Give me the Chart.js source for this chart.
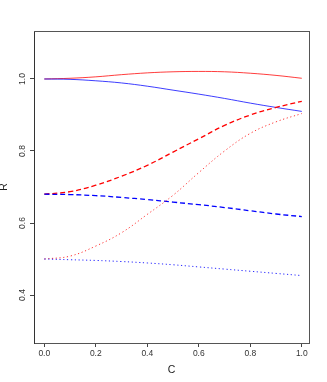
<!DOCTYPE html>
<html>
<head>
<meta charset="utf-8">
<script src="https://cdn.jsdelivr.net/npm/chart.js@4/dist/chart.umd.min.js"></script>
<style>
  html, body { margin: 0; padding: 0; background: #fff; }
  #wrap { width: 327px; height: 382px; }
</style>
</head>
<body>
<div id="wrap"><canvas id="chart" width="327" height="382"></canvas></div>
<script>
// C values along the x axis
const cValues = [0, 0.1, 0.2, 0.3, 0.4, 0.5, 0.6, 0.7, 0.8, 0.9, 1.0];

// R curves
const redSolid   = [1.000, 1.002, 1.006, 1.012, 1.017, 1.020, 1.021, 1.020, 1.016, 1.010, 1.002];
const blueSolid  = [1.000, 0.999, 0.995, 0.989, 0.980, 0.969, 0.958, 0.946, 0.933, 0.921, 0.910];
const redDashed  = [0.680, 0.687, 0.705, 0.730, 0.760, 0.797, 0.834, 0.871, 0.900, 0.921, 0.938];
const blueDashed = [0.680, 0.679, 0.676, 0.671, 0.665, 0.658, 0.651, 0.643, 0.634, 0.625, 0.618];
const redDotted  = [0.500, 0.508, 0.536, 0.573, 0.624, 0.677, 0.740, 0.800, 0.849, 0.881, 0.904];
const blueDotted = [0.500, 0.498, 0.496, 0.493, 0.489, 0.484, 0.478, 0.472, 0.466, 0.460, 0.454];

const xTicks = [0, 0.2, 0.4, 0.6, 0.8, 1.0];
const yTicks = [0.4, 0.6, 0.8, 1.0];

const toPoints = (ys) => ys.map((y, i) => ({ x: cValues[i], y: y }));

const series = (data, color, width, dash, order) => ({
  data: toPoints(data),
  borderColor: color,
  borderWidth: width,
  borderDash: dash,
  pointRadius: 0,
  fill: false,
  tension: 0.4,
  order: order,
});

const tickFont = { family: 'Liberation Sans, Arial, sans-serif', size: 8.5 };
const titleFont = { family: 'Liberation Sans, Arial, sans-serif', size: 10.5 };

new Chart(document.getElementById('chart'), {
  type: 'line',
  data: {
    datasets: [
      series(redSolid, 'rgba(255,0,0,0.85)', 0.9, [], 6),
      series(blueSolid, 'rgba(0,0,255,0.85)', 0.9, [], 5),
      series(redDashed, '#ff0000', 1.3, [5, 3], 4),
      series(blueDashed, '#0000ff', 1.3, [5, 3], 3),
      series(redDotted, 'rgba(255,0,0,0.8)', 1, [1.2, 2.6], 2),
      series(blueDotted, 'rgba(0,0,255,0.85)', 1, [1.2, 2.6], 1),
    ],
  },
  options: {
    responsive: false,
    animation: false,
    layout: { padding: { top: 31, right: 18, left: 0, bottom: 0 } },
    plugins: { legend: { display: false }, tooltip: { enabled: false } },
    scales: {
      x: {
        type: 'linear',
        position: 'bottom',
        min: -0.04,
        max: 1.028,
        afterBuildTicks: (s) => { s.ticks = xTicks.map((v) => ({ value: v })); },
        afterFit: (s) => { s.height = 39; },
        ticks: {
          color: '#333',
          font: tickFont,
          padding: 2,
          maxRotation: 0,
          callback: (v) => v.toFixed(1),
        },
        grid: { drawOnChartArea: false, tickLength: 4, color: '#444' },
        border: { color: '#555', width: 1 },
        title: { display: true, text: 'C', color: '#222', font: titleFont, padding: { top: 0, bottom: 6 } },
      },
      y: {
        type: 'linear',
        position: 'left',
        min: 0.2667,
        max: 1.1333,
        afterBuildTicks: (s) => { s.ticks = yTicks.map((v) => ({ value: v })); },
        afterFit: (s) => { s.width = 34; },
        ticks: {
          color: '#333',
          font: tickFont,
          padding: 1,
          minRotation: 90,
          maxRotation: 90,
          crossAlign: 'center',
          callback: (v) => v.toFixed(1),
        },
        grid: { drawOnChartArea: false, tickLength: 4, color: '#444' },
        border: { color: '#333', width: 1 },
        title: { display: true, text: 'R', color: '#222', font: titleFont, padding: { top: -2, bottom: 0 } },
      },
      xTop: {
        type: 'linear',
        position: 'top',
        min: -0.04,
        max: 1.028,
        afterFit: (s) => { s.height = 0; },
        ticks: { display: false },
        grid: { display: false, drawTicks: false },
        border: { color: '#555', width: 1 },
      },
      yRight: {
        type: 'linear',
        position: 'right',
        min: 0.2667,
        max: 1.1333,
        afterFit: (s) => { s.width = 0; },
        ticks: { display: false },
        grid: { display: false, drawTicks: false },
        border: { color: '#555', width: 1 },
      },
    },
  },
});
</script>
</body>
</html>
